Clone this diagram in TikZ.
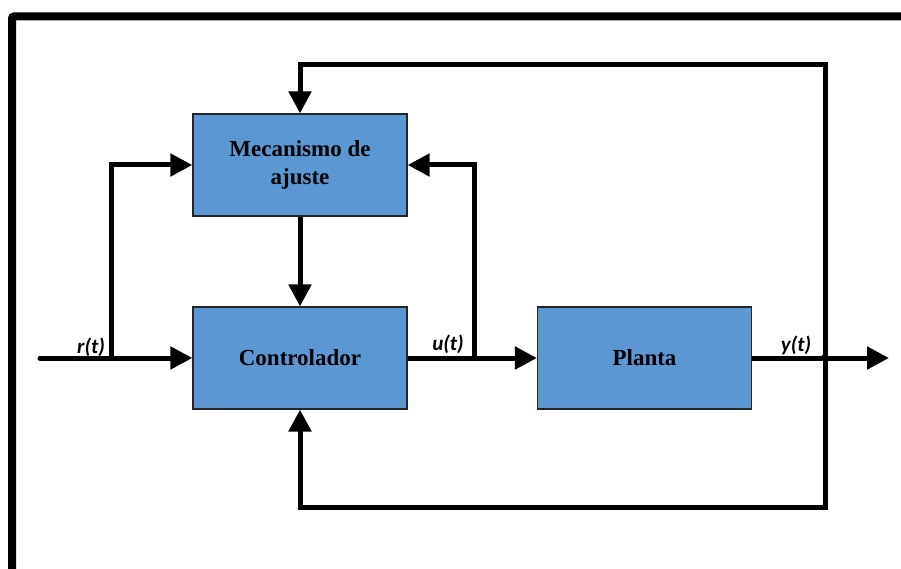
\documentclass[tikz,border=0pt]{standalone}
\usepackage{fontspec}
\setmainfont{Liberation Serif}
\newfontfamily\labelfont{Carlito}
\usetikzlibrary{arrows.meta}
\definecolor{boxblue}{HTML}{5B97D2}
\tikzset{
  block/.style={draw=black!85, line width=1.2pt, fill=boxblue, rectangle,
    minimum width=214pt, minimum height=102pt, inner sep=0pt, align=center,
    font=\fontsize{23}{28}\selectfont\bfseries},
  wire/.style={line width=5pt},
  flow/.style={wire, -{Triangle[length=22pt,width=22pt]}},
  sig/.style={font=\fontsize{21}{24}\selectfont\labelfont\bfseries\itshape, inner sep=0pt}
}
\begin{document}
\begin{tikzpicture}[x=1pt, y=-1pt]
\useasboundingbox (0,0) rectangle (901,569);
% outer frame
\draw[line width=8pt, rounded corners=2pt] (12,580) -- (12,16.5) -- (915,16.5);

% blocks
\node[block] (mec) at (300,165) {Mecanismo de\\ajuste};
\node[block] (ctrl) at (300,358) {Controlador};
\node[block] (plant) at (644.5,358) {Planta};

% branch points and corners
\coordinate (in) at (40,358);
\coordinate (rbr) at (111,358);
\coordinate (ubr) at (474,358);
\coordinate (junc) at (825,358);
\coordinate (out) at (889,358);
\coordinate (tr) at (825,65);
\coordinate (brc) at (825,507);

% forward path
\draw[flow, line cap=round] (in) -- (ctrl.west);
\draw[flow] (ctrl.east) -- (plant.west);
\draw[flow] (plant.east) -- (out);

% reference and control signals into the adaptation block
\draw[flow] (rbr) |- (mec.west);
\draw[flow] (ubr) |- (mec.east);
\draw[flow] (mec.south) -- (ctrl.north);

% output feedback
\draw[flow] (junc) -- (tr) -| (mec.north);
\draw[flow] (junc) -- (brc) -| (ctrl.south);
\fill (junc) circle (4pt);

% signal labels
\node[sig] (rlab) at (91,347) {r(t)};
\node[sig] (ulab) at (448,344) {u(t)};
\node[sig] (ylab) at (796,345) {y(t)};
\end{tikzpicture}
\end{document}
